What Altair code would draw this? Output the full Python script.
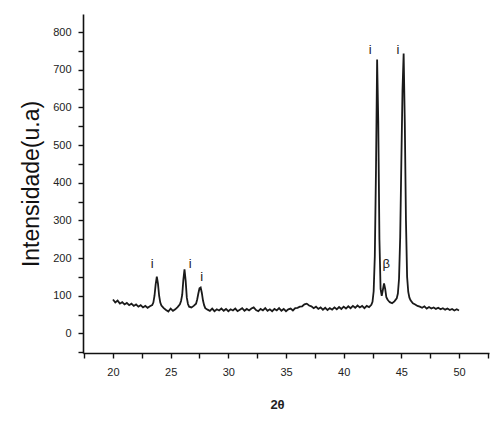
import altair as alt
import pandas as pd

two_theta = [
    20.0, 20.2, 20.4, 20.6, 20.8, 21.0, 21.2, 21.4, 21.6, 21.8, 22.0, 22.2, 22.4, 22.6, 22.8, 23.0, 23.2, 23.4,
    23.5, 23.6, 23.7, 23.8, 23.9, 24.0, 24.1, 24.2,
    24.4, 24.6, 24.8, 25.0, 25.2, 25.4, 25.6, 25.8,
    25.9, 26.0, 26.1, 26.2, 26.3, 26.4, 26.5, 26.6,
    26.8, 27.0, 27.2, 27.3, 27.4, 27.5, 27.6, 27.7, 27.8, 27.9, 28.0,
    28.2, 28.4, 28.6, 28.8, 29.0, 29.2, 29.4, 29.6, 29.8, 30.0, 30.2, 30.4, 30.6, 30.8, 31.0, 31.2, 31.4,
    31.6, 31.8, 32.0, 32.2, 32.4, 32.6, 32.8, 33.0, 33.2, 33.4, 33.6, 33.8, 34.0, 34.2, 34.4, 34.6, 34.8,
    35.0, 35.2, 35.4, 35.6, 35.8, 36.0, 36.2, 36.4, 36.6, 36.8, 37.0, 37.2, 37.4, 37.6, 37.8, 38.0, 38.2,
    38.4, 38.6, 38.8, 39.0, 39.2, 39.4, 39.6, 39.8, 40.0, 40.2, 40.4, 40.6, 40.8, 41.0, 41.2, 41.4, 41.6,
    41.8, 42.0, 42.2, 42.4, 42.5, 42.6, 42.7, 42.8, 42.9, 43.0, 43.1, 43.2, 43.3, 43.4, 43.5, 43.6, 43.7,
    43.8, 43.9, 44.0, 44.2, 44.4, 44.6, 44.7, 44.8, 44.9, 45.0, 45.1, 45.2, 45.3, 45.4, 45.5, 45.6, 45.7,
    45.8, 46.0, 46.2, 46.4, 46.6, 46.8, 47.0, 47.2, 47.4, 47.6, 47.8, 48.0, 48.2, 48.4, 48.6, 48.8, 49.0,
    49.2, 49.4, 49.6, 49.8, 50.0,
]
intensity = [
    90, 82, 87, 79, 83, 77, 81, 75, 79, 73, 77, 71, 75, 69, 73, 68, 72, 75,
    82, 100, 130, 151, 132, 100, 82, 74,
    67, 62, 58, 66, 60, 64, 70, 77,
    86, 102, 142, 170, 140, 95, 78, 71,
    69, 73, 79, 90, 106, 120, 122, 108, 88, 75, 67,
    63, 60, 66, 59, 64, 61, 66, 60, 65, 59, 64, 61, 66, 59, 63, 67, 60,
    65, 61, 66, 69, 62, 59, 65, 61, 67, 60, 64, 59, 65, 61, 67, 60, 65,
    59, 64, 66, 61, 67, 68, 71, 72, 77, 79, 74, 72, 67, 71, 65, 69, 63,
    68, 62, 67, 63, 69, 64, 70, 65, 71, 66, 72, 67, 73, 68, 74, 69, 73,
    67, 73, 70, 76, 84, 112, 205, 430, 727, 560, 250, 118, 100, 116, 133, 118, 96,
    90, 86, 83, 80, 85, 93, 106, 145, 255, 455, 645, 743, 560, 300, 150, 110, 95,
    88, 80, 77, 73, 71, 68, 72, 66, 70, 66, 69, 65, 68, 64, 67, 63, 66,
    62, 65, 61, 64, 61,
]

# peak labels
label_text = ["i", "i", "i", "i", "i", "β"]
label_x = [23.4, 26.7, 27.7, 42.3, 44.7, 43.7]
label_y = [183, 185, 150, 752, 752, 183]

y_ticks = list(range(-50, 851, 50))
x_ticks = [17.5 + 2.5 * k for k in range(15)]

df = pd.DataFrame({"x": two_theta, "y": intensity})
lab = pd.DataFrame({"t": label_text, "x": label_x, "y": label_y})

xscale = alt.Scale(domain=[17.4, 52.6], nice=False, zero=False)
yscale = alt.Scale(domain=[-52, 848], nice=False, zero=False)

xaxis = alt.Axis(title="2θ", values=x_ticks,
                 labelExpr="datum.value % 5 == 0 ? datum.label : ''",
                 labelOverlap=False,
                 grid=False, domainColor="#111", domainWidth=1.6,
                 tickColor="#111", tickWidth=1.4, tickSize=5,
                 labelFont="Liberation Sans", labelFontSize=11, labelColor="#222",
                 labelPadding=8, titleFont="Liberation Sans", titleFontSize=13,
                 titleFontWeight="bold", titleColor="#222",
                 titleX=194, titleY=55, titleBaseline="alphabetic")
yaxis = alt.Axis(title="Intensidade(u.a)", values=y_ticks,
                 labelExpr="datum.value % 100 == 0 ? datum.label : ''",
                 labelOverlap=False,
                 grid=False, domainColor="#111", domainWidth=1.6,
                 tickColor="#111", tickWidth=1.4, tickSize=5,
                 labelFont="Liberation Sans", labelFontSize=11, labelColor="#222",
                 labelPadding=7, titleFont="Liberation Sans", titleFontSize=23,
                 titleFontWeight="normal", titleColor="#111", titlePadding=9)

line = alt.Chart(df).mark_line(color="#1a1a1a", strokeWidth=1.8).encode(
    x=alt.X("x:Q", scale=xscale, axis=xaxis),
    y=alt.Y("y:Q", scale=yscale, axis=yaxis),
)

texts = alt.Chart(lab).mark_text(fontSize=13, font="Liberation Sans", color="#222").encode(
    x=alt.X("x:Q", scale=xscale, axis=xaxis),
    y=alt.Y("y:Q", scale=yscale, axis=yaxis),
    text="t:N",
)

chart = alt.layer(line, texts).properties(
    width=406, height=339,
    background="white",
    autosize=alt.AutoSizeParams(type="none"),
    padding={"left": 75, "top": 6, "right": 3, "bottom": 65},
).configure_view(stroke=None)

chart.save("out.html", embed_options={"renderer": "svg", "actions": False})
